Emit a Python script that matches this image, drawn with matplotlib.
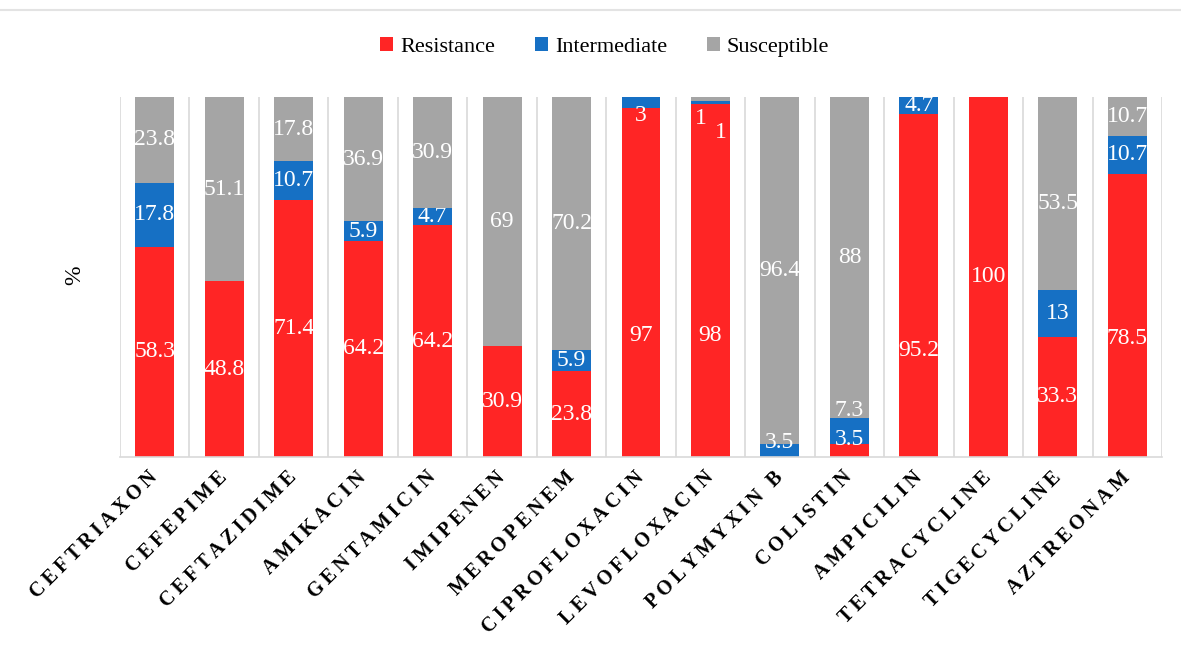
import numpy as np
import matplotlib
matplotlib.use('Agg')
import matplotlib.pyplot as plt
from matplotlib.lines import Line2D
from matplotlib.patches import Patch

# data (percent of isolates)
antibiotics = ['CEFTRIAXON', 'CEFEPIME', 'CEFTAZIDIME', 'AMIKACIN', 'GENTAMICIN',
               'IMIPENEN', 'MEROPENEM', 'CIPROFLOXACIN', 'LEVOFLOXACIN', 'POLYMYXIN B',
               'COLISTIN', 'AMPICILIN', 'TETRACYCLINE', 'TIGECYCLINE', 'AZTREONAM']
resistance = [58.3, 48.8, 71.4, 64.2, 64.2, 30.9, 23.8, 97, 98, 0, 3.5, 95.2, 100, 33.3, 78.5]
intermediate = [17.8, 0, 10.7, 5.9, 4.7, 0, 5.9, 3, 1, 3.5, 7.3, 4.7, 0, 13, 10.7]
susceptible = [23.8, 51.1, 17.8, 36.9, 30.9, 69, 70.2, 0, 1, 96.4, 88, 0, 0, 53.5, 10.7]

series_names = ['Resistance', 'Intermediate', 'Susceptible']
colors = ['#FF2525', '#1670C4', '#A5A5A5']

# label nudges in pixels (dx right, dy down) where the original labels sit off-centre
nudges = {
    (7, 0): (0, 53), (7, 1): (0, 13),
    (8, 0): (0, 55), (8, 1): (10, 30), (8, 2): (-10, 20),
    (9, 1): (0, -8),
    (10, 0): (0, -11), (10, 1): (0, -20),
    (11, 0): (0, 65),
    (13, 2): (0, 10),
    (14, 0): (0, 23),
}
unclipped = [(7, 1), (8, 1), (8, 2), (9, 1), (10, 0), (10, 1)]

serif = ['Liberation Serif', 'DejaVu Serif']
plt.rcParams['font.family'] = serif

fig = plt.figure(figsize=(11.81, 6.53), dpi=100)
ax = fig.add_axes([120 / 1181, 1 - 457 / 653, 1042 / 1181, 360 / 653])

data = np.array([resistance, intermediate, susceptible], dtype=float)
shares = data / data.sum(axis=0)
x = np.arange(len(antibiotics))
bottom = np.zeros(len(antibiotics))

for s in range(3):
    bars = ax.bar(x, shares[s], 0.56, bottom=bottom, color=colors[s], zorder=2)
    for i, rect in enumerate(bars):
        if data[s, i] == 0:
            continue
        dx, dy = nudges.get((i, s), (0, 0))
        t = ax.annotate(f'{data[s, i]:g}', (x[i], bottom[i] + shares[s, i] / 2),
                        xytext=(dx * 0.72, -dy * 0.72), textcoords='offset points',
                        ha='center', va='center', color='white', fontsize=17, zorder=3)
        # labels in the reference are cut off at the bar edges
        if (i, s) not in unclipped:
            t.set_clip_path(rect)
    bottom += shares[s]

ax.set_xlim(-0.5, len(antibiotics) - 0.5)
ax.set_ylim(0, 1)
ax.set_yticks([])
ax.set_xticks(np.arange(len(antibiotics) + 1) - 0.5, minor=True)
ax.xaxis.grid(True, which='minor', color='#D9D9D9', linewidth=1.2, zorder=0)
ax.tick_params(axis='x', which='both', length=0)
ax.set_xticks(x)
spaced = ['\u2009'.join(list(name)) for name in antibiotics]
ax.set_xticklabels(spaced, rotation=45, ha='right', va='center', rotation_mode='anchor',
                   fontsize=14.5, fontweight='bold', family=serif)
for lbl in ax.get_xticklabels():
    lbl.set_y(-0.035)
for side in ['top', 'right', 'left']:
    ax.spines[side].set_visible(False)
ax.spines['bottom'].set_color('#D9D9D9')
ax.spines['bottom'].set_linewidth(1.2)

fig.text(75 / 1181, 1 - 275 / 653, '%', rotation=90, ha='center', va='center', fontsize=17)

handles = [Patch(facecolor=c, edgecolor='none') for c in colors]
fig.legend(handles, series_names, loc='center', bbox_to_anchor=(0.512, 1 - 47 / 653),
           ncol=3, frameon=False, fontsize=16, handlelength=0.6, handleheight=0.6,
           handletextpad=0.3, columnspacing=1.8)

fig.add_artist(Line2D([0, 1], [1 - 10 / 653] * 2, color='#E3E3E3', linewidth=1.5,
                      transform=fig.transFigure))

fig.savefig('out.png', dpi=100)
